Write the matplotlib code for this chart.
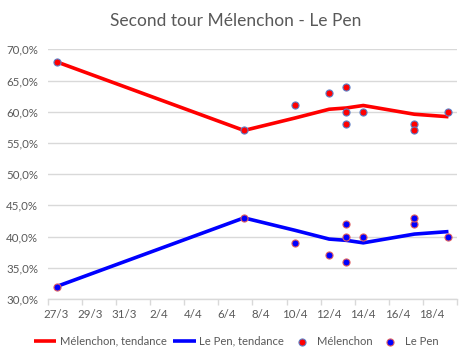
from datetime import datetime

import matplotlib
matplotlib.use("Agg")
import matplotlib.pyplot as plt
import matplotlib.dates as mdates
from matplotlib.ticker import FuncFormatter, FixedLocator


# =========================
# Données
# =========================

trend_dates = ["2022-03-27", "2022-04-07", "2022-04-10", "2022-04-12",
               "2022-04-13", "2022-04-14", "2022-04-17", "2022-04-19"]
melenchon_trend = [68.0, 57.0, 59.0, 60.4, 60.6, 61.0, 59.6, 59.2]
lepen_trend = [32.0, 43.0, 41.0, 39.6, 39.4, 39.0, 40.4, 40.8]

poll_dates = ["2022-03-27", "2022-04-07", "2022-04-10", "2022-04-12",
              "2022-04-13", "2022-04-13", "2022-04-13", "2022-04-14",
              "2022-04-17", "2022-04-17", "2022-04-19"]
melenchon_polls = [68, 57, 61, 63, 64, 60, 58, 60, 58, 57, 60]
lepen_polls = [32, 43, 39, 37, 36, 40, 42, 40, 42, 43, 40]

tick_dates = ["2022-03-27", "2022-03-29", "2022-03-31", "2022-04-02", "2022-04-04",
              "2022-04-06", "2022-04-08", "2022-04-10", "2022-04-12", "2022-04-14",
              "2022-04-16", "2022-04-18"]

RED = "#FF0000"
BLUE = "#0000FF"
GREY_TXT = "#595959"
GRID = "#D9D9D9"

plt.rcParams["font.family"] = ["Lato", "DejaVu Sans"]


def to_num(dates):
    return [mdates.date2num(datetime.strptime(d, "%Y-%m-%d")) for d in dates]


fig = plt.figure(figsize=(4.72, 3.61), dpi=100)
ax = fig.add_axes([0.1017, 0.1717, 0.8665, 0.6917])

ax.plot(to_num(trend_dates), melenchon_trend, color=RED, lw=2.6,
        solid_capstyle="butt", label="Mélenchon, tendance", zorder=3)
ax.plot(to_num(trend_dates), lepen_trend, color=BLUE, lw=2.6,
        solid_capstyle="butt", label="Le Pen, tendance", zorder=3)
ax.scatter(to_num(poll_dates), melenchon_polls, s=26, color=RED,
           edgecolors="#5B7FC7", linewidths=0.8, label="Mélenchon", zorder=4)
ax.scatter(to_num(poll_dates), lepen_polls, s=26, color=BLUE,
           edgecolors="#E06060", linewidths=0.8, label="Le Pen", zorder=4)

# axes
x0 = to_num(["2022-03-27"])[0] - 0.5
x1 = to_num(["2022-04-19"])[0] + 0.5
ax.set_xlim(x0, x1)
ax.set_ylim(30, 70)
ax.set_yticks(range(30, 71, 5))
ax.yaxis.set_major_formatter(FuncFormatter(lambda v, p: f"{v:.1f}%".replace(".", ",")))

ticks = to_num(tick_dates)
ax.xaxis.set_major_locator(FixedLocator(ticks))
ax.xaxis.set_major_formatter(FuncFormatter(
    lambda v, p: f"{mdates.num2date(v).day}/{mdates.num2date(v).month}"))
minor = [t - 0.5 for t in ticks] + [x1]
ax.xaxis.set_minor_locator(FixedLocator(minor))
ax.tick_params(axis="x", which="major", length=0, pad=7, labelsize=8.3, labelcolor=GREY_TXT)
ax.tick_params(axis="x", which="minor", length=4, color=GRID, width=1)
ax.tick_params(axis="y", length=0, pad=7, labelsize=8.3, labelcolor=GREY_TXT)

ax.grid(axis="y", color=GRID, lw=1)
ax.set_axisbelow(True)
for side in ["top", "right", "left"]:
    ax.spines[side].set_visible(False)
ax.spines["bottom"].set_color(GRID)
ax.spines["bottom"].set_linewidth(1)

fig.suptitle("Second tour Mélenchon - Le Pen", x=0.5, y=0.965, fontsize=12.5, color=GREY_TXT)

fig.legend(loc="center", bbox_to_anchor=(0.5, 0.055), ncol=4, frameon=False,
           fontsize=8.1, handlelength=2.0, handletextpad=0.3, columnspacing=0.6,
           scatterpoints=1, labelcolor=GREY_TXT)

fig.savefig("out.png", dpi=100)
